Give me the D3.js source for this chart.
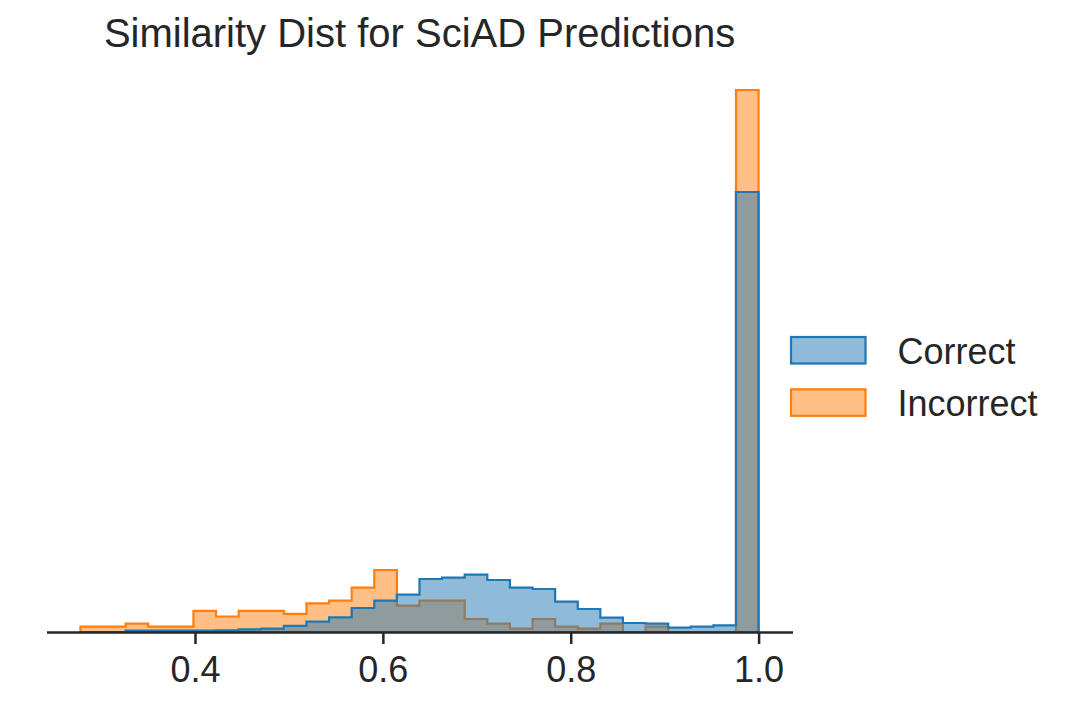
<!DOCTYPE html>
<html>
<head>
<meta charset="utf-8">
<script src="https://cdn.jsdelivr.net/npm/d3@7"></script>
<style>
  body { margin: 0; background: #fff; }
  text { font-family: "Liberation Sans", Arial, sans-serif; fill: #262626; }
</style>
</head>
<body>
<svg id="chart" width="1070" height="704"></svg>
<script>
// bins: 30 equal bins from binStart to binEnd
const binStart = 0.278;
const binEnd = 1.0;
const binCount = 30;

// bar heights (arbitrary count units)
const correct = [0, 0, 1.5, 1.5, 1.5, 1.5, 1.7, 2.7, 3.3, 6.1,
  10.3, 14.7, 24, 31.3, 37.3, 53, 54.3, 57.3, 52, 44.3,
  43, 30.3, 23, 14.3, 9, 8.3, 4.3, 5.3, 6.7, 440];
const incorrect = [5.3, 5.3, 8.3, 5.3, 5.3, 21.2, 15.5, 21.2, 21.2, 18.2,
  28.7, 31.3, 44.3, 62, 26.3, 31.3, 31.3, 13, 8.3, 3.3,
  13, 5.3, 3.3, 8.3, 0, 5.3, 0, 0, 0, 542];

const seriesNames = ["Correct", "Incorrect"];
const seriesColors = ["#1f77b4", "#ff7f0e"];
const xTicks = [0.4, 0.6, 0.8, 1.0];
const title = "Similarity Dist for SciAD Predictions";

const svg = d3.select("#chart");
const baseY = 632;

const span = binEnd - binStart;
const x = d3.scaleLinear()
  .domain([binStart - 0.05 * span, binEnd + 0.05 * span])
  .range([46.5, 792.5]);

const ymax = d3.max(correct.concat(incorrect));
const y = d3.scaleLinear()
  .domain([0, ymax * 1.05])
  .range([baseY, 62.9]);

const binW = span / binCount;
const edges = d3.range(binCount + 1).map(i => binStart + i * binW);

// step outline, closed along the baseline like fill_between
function stepPath(values) {
  let d = "M" + x(edges[0]) + "," + y(0);
  values.forEach((v, i) => {
    d += "L" + x(edges[i]) + "," + y(v) + "L" + x(edges[i + 1]) + "," + y(v);
  });
  d += "L" + x(edges[binCount]) + "," + y(0) + "Z";
  return d;
}

// orange first, blue on top
const layers = [
  { values: incorrect, color: seriesColors[1] },
  { values: correct, color: seriesColors[0] }
];

svg.selectAll("path.hist")
  .data(layers)
  .join("path")
  .attr("class", "hist")
  .attr("d", l => stepPath(l.values))
  .attr("fill", l => l.color)
  .attr("fill-opacity", 0.5)
  .attr("stroke", l => l.color)
  .attr("stroke-width", 2.2)
  .attr("stroke-linejoin", "miter");

// x axis (no y axis, despined)
const axis = svg.append("g")
  .attr("transform", "translate(0," + baseY + ")")
  .call(d3.axisBottom(x)
    .tickValues(xTicks)
    .tickFormat(d3.format(".1f"))
    .tickSize(12)
    .tickSizeOuter(0)
    .tickPadding(12.4));

axis.select(".domain").attr("stroke", "#262626").attr("stroke-width", 2.5);
axis.selectAll(".tick line").attr("stroke", "#262626").attr("stroke-width", 2.5);
axis.selectAll(".tick text")
  .attr("font-size", 36)
  .attr("font-family", "Liberation Sans, Arial, sans-serif")
  .attr("fill", "#262626");

// title
svg.append("text")
  .attr("x", (x.range()[0] + x.range()[1]) / 2)
  .attr("y", 47)
  .attr("text-anchor", "middle")
  .attr("font-size", 40)
  .text(title);

// legend
const legend = svg.append("g")
  .selectAll("g")
  .data(seriesNames)
  .join("g")
  .attr("transform", (d, i) => "translate(791," + (337 + i * 52.3) + ")");

legend.append("rect")
  .attr("width", 74.5)
  .attr("height", 26.5)
  .attr("fill", (d, i) => seriesColors[i])
  .attr("fill-opacity", 0.5)
  .attr("stroke", (d, i) => seriesColors[i])
  .attr("stroke-width", 2.2);

legend.append("text")
  .attr("x", 106.5)
  .attr("y", 26.5)
  .attr("font-size", 36)
  .text(d => d);
</script>
</body>
</html>
